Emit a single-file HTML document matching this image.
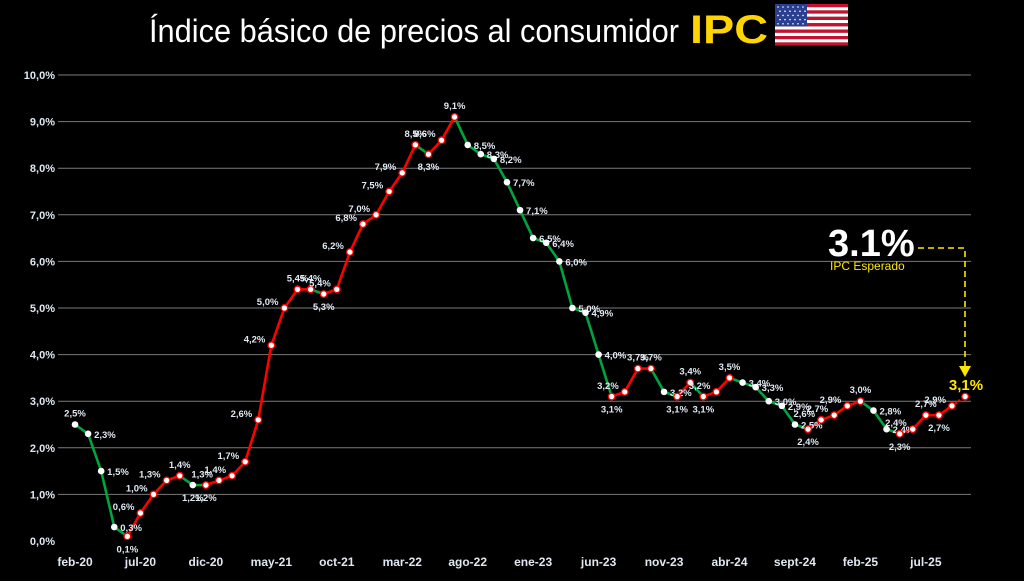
<!DOCTYPE html>
<html><head><meta charset="utf-8"><style>
body{margin:0;background:#000;width:1024px;height:576px;overflow:hidden;font-family:"Liberation Sans",sans-serif}
</style></head><body>
<svg id="s" width="1024" height="576" xmlns="http://www.w3.org/2000/svg">
<text x="149" y="42" fill="#fff" font-size="32" textLength="530" lengthAdjust="spacingAndGlyphs" font-family="Liberation Sans, sans-serif">Índice básico de precios al consumidor</text>
<text x="690" y="43" fill="#ffd400" font-size="40" font-weight="bold" textLength="78" lengthAdjust="spacingAndGlyphs" font-family="Liberation Sans, sans-serif">IPC</text>
</svg>
<script>
const s=document.getElementById('s');const NS='http://www.w3.org/2000/svg';
function el(t,a,txt){const e=document.createElementNS(NS,t);for(const k in a)e.setAttribute(k,a[k]);if(txt!==undefined)e.textContent=txt;s.appendChild(e);return e;}
for(let i=0;i<13;i++)el('rect',{x:775,y:4+i*3.2,width:73,height:3.2,fill:i%2?'#fff':'#c8102e'});
el('rect',{x:775,y:4,width:32,height:22.4,fill:'#2a3f8f'});
for(let r=0;r<5;r++)for(let c=0;c<6;c++)el('circle',{cx:778+c*5+(r%2)*2,cy:7+r*4.2,r:0.8,fill:'#fff'});
const y0=541,py=46.6,x0=75,dx=13.09;
const Y=v=>y0-v*py;
for(let i=0;i<=10;i++){const y=Y(i);
 if(i>0)el('line',{x1:58,x2:971,y1:y,y2:y,stroke:'#7a7a7a','stroke-width':1});
 el('text',{x:55,y:y+4,fill:'#dfe8f2','font-size':11,'font-weight':'bold','text-anchor':'end'},i.toFixed(1).replace('.',',')+'%');}
const d=[2.5,2.3,1.5,0.3,0.1,0.6,1.0,1.3,1.4,1.2,1.2,1.3,1.4,1.7,2.6,4.2,5.0,5.4,5.4,5.3,5.4,6.2,6.8,7.0,7.5,7.9,8.5,8.3,8.6,9.1,8.5,8.3,8.2,7.7,7.1,6.5,6.4,6.0,5.0,4.9,4.0,3.1,3.2,3.7,3.7,3.2,3.1,3.4,3.1,3.2,3.5,3.4,3.3,3.0,2.9,2.5,2.4,2.6,2.7,2.9,3.0,2.8,2.4,2.3,2.4,2.7,2.7,2.9,3.1];
const labs=['feb-20','jul-20','dic-20','may-21','oct-21','mar-22','ago-22','ene-23','jun-23','nov-23','abr-24','sept-24','feb-25','jul-25'];
labs.forEach((l,i)=>el('text',{x:x0+i*5*dx,y:566,fill:'#dfe8f2','font-size':12,'font-weight':'bold','text-anchor':'middle'},l));
const X=i=>x0+i*dx;
let col=[],prev='g';
for(let i=0;i<d.length-1;i++){let c=d[i+1]>d[i]?'r':d[i+1]<d[i]?'g':prev;col.push(c);prev=c;}
for(let i=0;i<d.length-1;i++){const a={x1:X(i),y1:Y(d[i]),x2:X(i+1),y2:Y(d[i+1]),stroke:col[i]=='r'?'#ff0000':'#00a53c','stroke-width':2.6};
 if(i==d.length-2)a['stroke-dasharray']='2,2';el('line',a);}
for(let i=0;i<d.length;i++){const c=(i>0&&col[i-1]=='r')||(col[i]=='r');
 el('circle',{cx:X(i),cy:Y(d[i]),r:3.3,fill:'#fff',stroke:c?'#ff0000':'#fff','stroke-width':c?1.3:0});
 if(i==d.length-1)continue;
 const p=i>0?d[i-1]:d[i],n=d[i+1];let x=X(i),y=Y(d[i]),anc='middle';
 if(d[i]>=p&&d[i]>=n&&!(d[i]==p&&d[i]==n)){y-=8;}
 else if(d[i]<=p&&d[i]<=n){y+=16;}
 else if(n>d[i]){x-=6;y-=3;anc='end';}
 else{x+=6;y+=4;anc='start';}
 el('text',{x:x,y:y,fill:'#dfe8f2','font-size':9.5,'font-weight':'bold','text-anchor':anc},d[i].toFixed(1).replace('.',',')+'%');}
el('text',{x:966,y:390,fill:'#ffe600','font-size':15,'font-weight':'bold','text-anchor':'middle'},'3,1%');
el('text',{x:828,y:256,fill:'#fff','font-size':38,'font-weight':'bold'},'3.1%');
el('text',{x:830,y:270,fill:'#ffe600','font-size':12},'IPC Esperado');
el('polyline',{points:'918,248 965,248 965,366',fill:'none',stroke:'#ffe600','stroke-width':1.6,'stroke-dasharray':'6,4'});
el('polygon',{points:'959,366 971,366 965,377',fill:'#ffe600'});
</script>
</body></html>
